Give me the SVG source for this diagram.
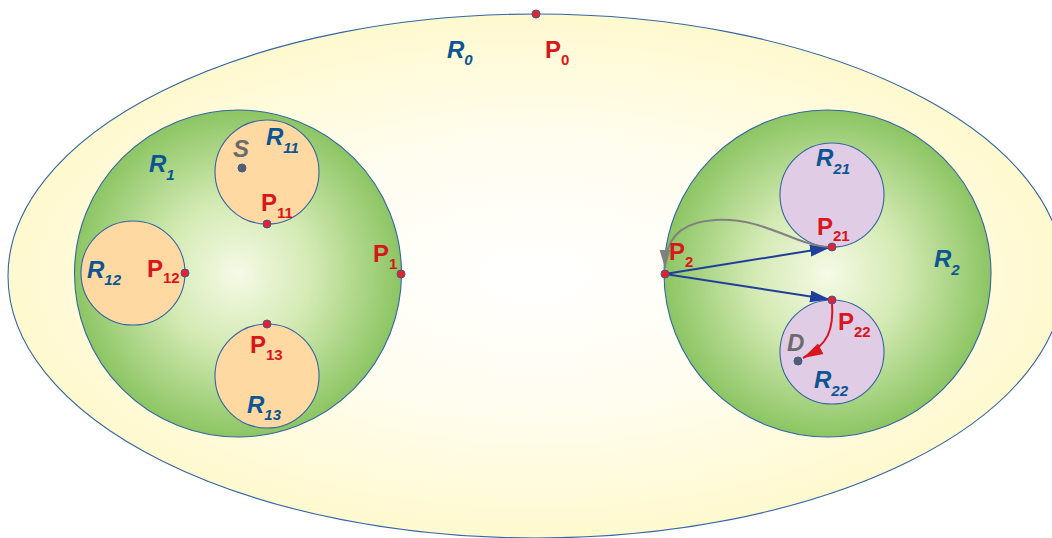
<svg xmlns="http://www.w3.org/2000/svg" width="1052" height="538" viewBox="0 0 1052 538">
<defs>
<radialGradient id="gOuter" cx="50%" cy="50%" r="50%">
<stop offset="0" stop-color="#ffffff"/>
<stop offset="0.5" stop-color="#fffdf0"/>
<stop offset="1" stop-color="#fff9cf"/>
</radialGradient>
<radialGradient id="gGreen" cx="50%" cy="50%" r="50%">
<stop offset="0" stop-color="#f6fae6"/>
<stop offset="0.45" stop-color="#d4eab4"/>
<stop offset="1" stop-color="#8cc563"/>
</radialGradient>
<marker id="aBlue" viewBox="0 0 20 12" refX="20" refY="6" markerWidth="20" markerHeight="12" markerUnits="userSpaceOnUse" orient="auto">
<path d="M0,0 L20,6 L0,12 Z" fill="#1f3f9a"/>
</marker>
<marker id="aGrey" viewBox="0 0 20 12" refX="20" refY="6" markerWidth="18" markerHeight="12" markerUnits="userSpaceOnUse" orient="auto">
<path d="M0,0 L20,6 L0,12 Z" fill="#808080"/>
</marker>
<marker id="aRed" viewBox="0 0 20 12" refX="20" refY="6" markerWidth="20" markerHeight="13" markerUnits="userSpaceOnUse" orient="auto">
<path d="M0,0 L20,6 L0,12 Z" fill="#d7161e"/>
</marker>
</defs>
<style>
.reg{stroke:#3465a4;stroke-width:1.1}
.orange{fill:#ffd8a2}
.lav{fill:#e0cde5}
.pt{fill:#e8202a;stroke:#3a5a9a;stroke-width:1}
.gpt{fill:#555e6a;stroke:#3a5a9a;stroke-width:1}
text{font-family:"Liberation Sans",Arial,sans-serif;font-weight:bold;font-size:24px}
.r{fill:#0b5592;font-style:italic}
.p{fill:#d9161c}
.g{fill:#6b6b6b;font-style:italic}
.s{font-size:15px}
</style>
<g id="R0">
<ellipse cx="536" cy="276" rx="528" ry="262" fill="url(#gOuter)" class="reg"/>
<text class="r" x="447" y="58">R<tspan class="s" dy="7">0</tspan></text>
</g>
<g id="R1">
<circle cx="238" cy="273.5" r="163.5" fill="url(#gGreen)" class="reg"/>
<text class="r" x="149" y="172">R<tspan class="s" dy="8">1</tspan></text>
</g>
<g id="R2">
<circle cx="827.5" cy="273.5" r="163.5" fill="url(#gGreen)" class="reg"/>
<text class="r" x="934" y="267">R<tspan class="s" dy="8">2</tspan></text>
</g>
<g id="R11">
<circle cx="267" cy="172" r="52" class="reg orange"/>
<text class="r" x="266" y="145">R<tspan class="s" dy="8">11</tspan></text>
</g>
<g id="R12">
<circle cx="133" cy="273" r="52" class="reg orange"/>
<text class="r" x="87" y="278">R<tspan class="s" dy="7">12</tspan></text>
</g>
<g id="R13">
<circle cx="267" cy="376" r="52" class="reg orange"/>
<text class="r" x="247" y="413">R<tspan class="s" dy="7">13</tspan></text>
</g>
<g id="R21">
<circle cx="832" cy="195" r="52" class="reg lav"/>
<text class="r" x="816" y="166">R<tspan class="s" dy="8">21</tspan></text>
</g>
<g id="R22">
<circle cx="832" cy="352" r="52" class="reg lav"/>
<text class="r" x="814" y="388">R<tspan class="s" dy="8">22</tspan></text>
</g>
<g id="connectors" fill="none">
<line x1="665" y1="274" x2="830" y2="247.5" stroke="#1f3f9a" stroke-width="2" marker-end="url(#aBlue)"/>
<line x1="665" y1="274" x2="830" y2="299.5" stroke="#1f3f9a" stroke-width="2" marker-end="url(#aBlue)"/>
<path d="M830,247 C795,246 765,217 715,220 C680,222 665,240 665,268" stroke="#808080" stroke-width="2" marker-end="url(#aGrey)"/>
<path d="M832,302 C834,330 828,345 803,358" stroke="#d7161e" stroke-width="2" marker-end="url(#aRed)"/>
</g>
<g id="P0"><circle cx="536" cy="14" r="4" class="pt"/><text class="p" x="545" y="58">P<tspan class="s" dy="7">0</tspan></text></g>
<g id="P1"><circle cx="401" cy="274" r="4" class="pt"/><text class="p" x="373" y="262">P<tspan class="s" dy="7">1</tspan></text></g>
<g id="P11"><circle cx="267" cy="224" r="4" class="pt"/><text class="p" x="261" y="211">P<tspan class="s" dy="7">11</tspan></text></g>
<g id="P12"><circle cx="185" cy="273" r="4" class="pt"/><text class="p" x="147" y="277">P<tspan class="s" dy="6">12</tspan></text></g>
<g id="P13"><circle cx="267" cy="324" r="4" class="pt"/><text class="p" x="250" y="353">P<tspan class="s" dy="7">13</tspan></text></g>
<g id="P2"><circle cx="665" cy="274" r="4" class="pt"/><text class="p" x="669" y="260">P<tspan class="s" dy="7">2</tspan></text></g>
<g id="P21"><circle cx="832" cy="247" r="4" class="pt"/><text class="p" x="817" y="235">P<tspan class="s" dy="6">21</tspan></text></g>
<g id="P22"><circle cx="832" cy="300" r="4" class="pt"/><text class="p" x="838" y="330">P<tspan class="s" dy="7">22</tspan></text></g>
<g id="S"><circle cx="242" cy="168" r="4" class="gpt"/><text class="g" x="233" y="157">S</text></g>
<g id="D"><circle cx="798" cy="361" r="4" class="gpt"/><text class="g" x="787" y="351">D</text></g>
</svg>
